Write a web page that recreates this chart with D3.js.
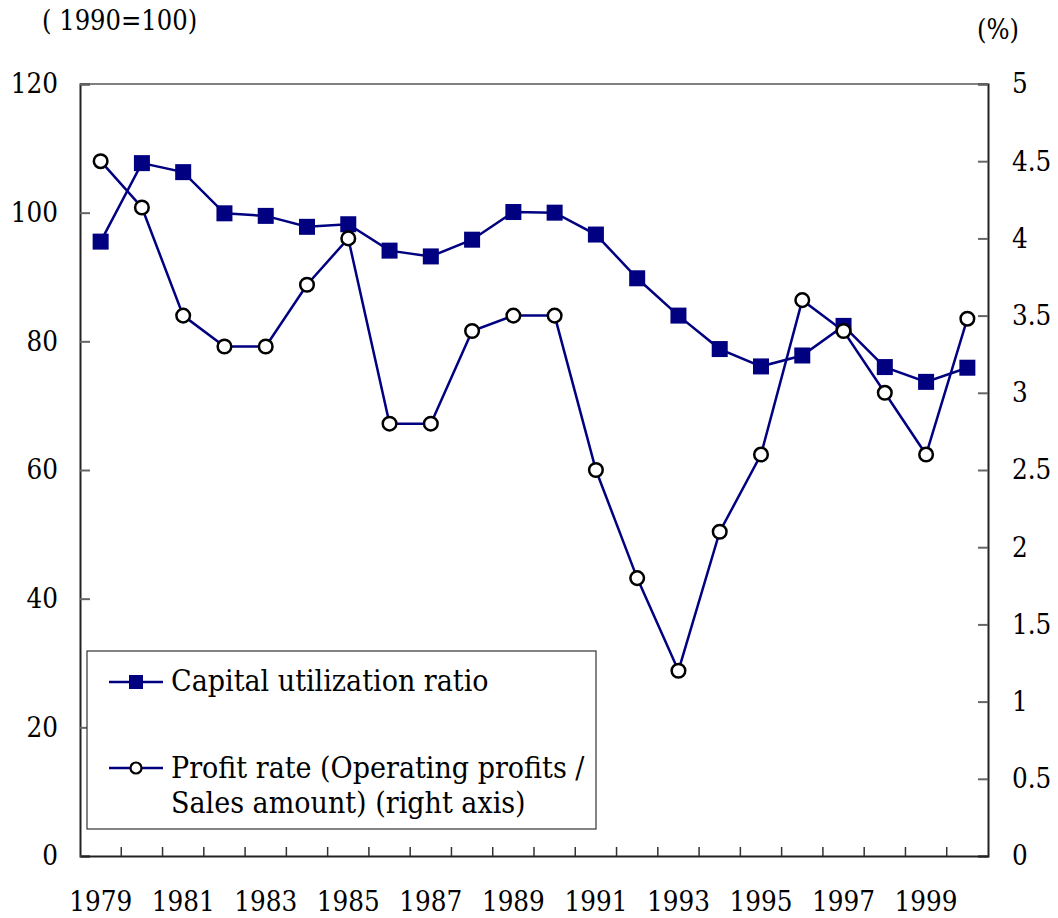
<!DOCTYPE html>
<html><head><meta charset="utf-8">
<script src="https://cdn.jsdelivr.net/npm/d3@7/dist/d3.min.js"></script>
<style>
body{margin:0;background:#fff;}
svg text{font-family:"DejaVu Serif Condensed","DejaVu Serif",serif;font-stretch:condensed;fill:#000;}
</style></head>
<body><svg id="c" width="1058" height="918"></svg>
<script>
const years = [1979,1980,1981,1982,1983,1984,1985,1986,1987,1988,1989,1990,1991,1992,1993,1994,1995,1996,1997,1998,1999,2000];
const capitalUtilization = [95.5,107.7,106.3,99.9,99.5,97.8,98.2,94.1,93.2,95.8,100.1,100,96.6,89.8,84.0,78.8,76.1,77.8,82.4,76.0,73.7,75.9];
const profitRate = [4.5,4.2,3.5,3.3,3.3,3.7,4.0,2.8,2.8,3.4,3.5,3.5,2.5,1.8,1.2,2.1,2.6,3.6,3.4,3.0,2.6,3.48];
const leftTicks = [0,20,40,60,80,100,120];
const rightTicks = [0,0.5,1,1.5,2,2.5,3,3.5,4,4.5,5];
const xLabelYears = [1979,1981,1983,1985,1987,1989,1991,1993,1995,1997,1999];
const seriesNames = ["Capital utilization ratio", ["Profit rate (Operating profits /","Sales amount) (right axis)"]];
const leftUnit = "( 1990=100)", rightUnit = "(%)";

const svg = d3.select("#c");
const L=80,R=988,T=84,B=856;
const x = d3.scaleBand().domain(years).range([L,R]).padding(0);
const yL = d3.scaleLinear().domain([0,120]).range([B,T]);
const yR = d3.scaleLinear().domain([0,5]).range([B,T]);
const cx = d => x(d)+x.bandwidth()/2;
const navy = "#000080";
const fs = 27.5;

// top border
svg.append("line").attr("x1",L).attr("x2",R).attr("y1",T).attr("y2",T).attr("stroke","#808080").attr("stroke-width",2);

// left axis
const gl = svg.append("g").attr("transform",`translate(${L},0)`)
  .call(d3.axisLeft(yL).tickValues(leftTicks).tickSize(-10).tickPadding(22).tickFormat(d3.format("d")));
gl.select(".domain").attr("stroke","#222").attr("stroke-width",2);
gl.selectAll(".tick line").attr("stroke","#666").attr("stroke-width",2);
gl.selectAll(".tick text").style("font-size",fs+"px");

// right axis
const gr = svg.append("g").attr("transform",`translate(${R},0)`)
  .call(d3.axisRight(yR).tickValues(rightTicks).tickSize(-10).tickPadding(24).tickFormat(d=>String(d)));
gr.select(".domain").attr("stroke","#222").attr("stroke-width",2);
gr.selectAll(".tick line").attr("stroke","#666").attr("stroke-width",2);
gr.selectAll(".tick text").style("font-size",fs+"px");

// bottom axis
const gb = svg.append("g").attr("transform",`translate(0,${B})`)
  .call(d3.axisBottom(x).tickSize(0).tickPadding(35).tickFormat(d=>xLabelYears.includes(d)?String(d):""));
gb.select(".domain").attr("stroke","#222").attr("stroke-width",2);
gb.selectAll(".tick text").style("font-size",fs+"px");
gb.selectAll("line.bt").data(years.slice(1)).enter().append("line").attr("class","bt")
  .attr("x1",d=>x(d)).attr("x2",d=>x(d)).attr("y1",0).attr("y2",-9).attr("stroke","#333").attr("stroke-width",1.5);

// units
svg.append("text").attr("x",42).attr("y",30).style("font-size","27px").text(leftUnit);
svg.append("text").attr("x",977).attr("y",39).style("font-size","27px").text(rightUnit);

// series 1
const line1 = d3.line().x((d,i)=>cx(years[i])).y(d=>yL(d));
svg.append("path").attr("d",line1(capitalUtilization)).attr("fill","none").attr("stroke",navy).attr("stroke-width",2.5);
svg.selectAll("rect.m").data(capitalUtilization).enter().append("rect").attr("class","m")
  .attr("x",(d,i)=>cx(years[i])-8).attr("y",d=>yL(d)-8).attr("width",16).attr("height",16).attr("fill",navy);

// series 2
const line2 = d3.line().x((d,i)=>cx(years[i])).y(d=>yR(d));
svg.append("path").attr("d",line2(profitRate)).attr("fill","none").attr("stroke",navy).attr("stroke-width",2.5);
svg.selectAll("circle.m").data(profitRate).enter().append("circle").attr("class","m")
  .attr("cx",(d,i)=>cx(years[i])).attr("cy",d=>yR(d)).attr("r",6.8).attr("fill","#fff").attr("stroke","#000").attr("stroke-width",2.5);

// legend
const lg = svg.append("g");
lg.append("rect").attr("x",87).attr("y",651).attr("width",509).attr("height",178).attr("fill","#fff").attr("stroke","#333").attr("stroke-width",1.2);
lg.append("line").attr("x1",109).attr("x2",163).attr("y1",682).attr("y2",682).attr("stroke",navy).attr("stroke-width",2.5);
lg.append("rect").attr("x",129).attr("y",675).attr("width",14).attr("height",14).attr("fill",navy);
lg.append("text").attr("x",171).attr("y",691).style("font-size","30px").text(seriesNames[0]);
lg.append("line").attr("x1",109).attr("x2",163).attr("y1",768).attr("y2",768).attr("stroke",navy).attr("stroke-width",2.5);
lg.append("circle").attr("cx",136).attr("cy",768).attr("r",5.5).attr("fill","#fff").attr("stroke","#000").attr("stroke-width",2.2);
lg.append("text").attr("x",171).attr("y",778).style("font-size","30px").text(seriesNames[1][0]);
lg.append("text").attr("x",171).attr("y",813).style("font-size","30px").text(seriesNames[1][1]);
</script></body></html>
